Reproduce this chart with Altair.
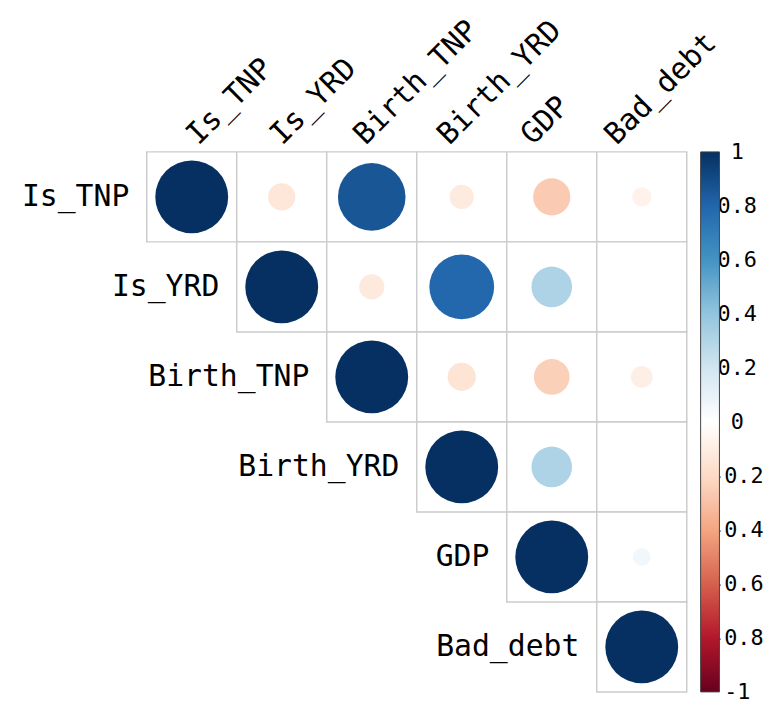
import altair as alt
import pandas as pd

variables = ["Is_TNP", "Is_YRD", "Birth_TNP", "Birth_YRD", "GDP", "Bad_debt"]

# upper-triangle correlation values, row by row (starting at the diagonal)
row_is_tnp = [1.0, -0.14, 0.86, -0.11, -0.26, -0.07]
row_is_yrd = [1.0, -0.12, 0.79, 0.31, 0.003]
row_birth_tnp = [1.0, -0.15, -0.24, -0.09]
row_birth_yrd = [1.0, 0.31, 0.004]
row_gdp = [1.0, 0.06]
row_bad_debt = [1.0]

legend_ticks = [-1, -0.8, -0.6, -0.4, -0.2, 0, 0.2, 0.4, 0.6, 0.8, 1]
rdbu_stops = [-1, -0.8, -0.6, -0.4, -0.2, 0, 0.2, 0.4, 0.6, 0.8, 1]
rdbu_colors = ["#67001f", "#b2182b", "#d6604d", "#f4a582", "#fddbc7", "#ffffff",
               "#d1e5f0", "#92c5de", "#4393c3", "#2166ac", "#053061"]

rows = [row_is_tnp, row_is_yrd, row_birth_tnp, row_birth_yrd, row_gdp, row_bad_debt]
records = []
for i, vals in enumerate(rows):
    for k, v in enumerate(vals):
        j = i + k
        records.append({"row": variables[i], "col": variables[j], "r": v, "absr": abs(v)})
df = pd.DataFrame(records)
diag = pd.DataFrame({"var": variables})
ticks_df = pd.DataFrame({"v": legend_ticks})

FONT = "DejaVu Sans Mono"
W = 545
H = 545

xs = alt.Scale(domain=variables, paddingInner=0, paddingOuter=0)
ys = alt.Scale(domain=variables, paddingInner=0, paddingOuter=0)

cells = alt.Chart(df).mark_rect(fill="white", stroke="#cccccc", strokeWidth=1.5).encode(
    x=alt.X("col:N", scale=xs, axis=None),
    y=alt.Y("row:N", scale=ys, axis=None),
)

circles = alt.Chart(df).mark_circle(opacity=1).encode(
    x=alt.X("col:N", scale=xs, axis=None),
    y=alt.Y("row:N", scale=ys, axis=None),
    size=alt.Size("absr:Q", scale=alt.Scale(domain=[0, 1], range=[0, 5410], zero=True), legend=None),
    color=alt.Color(
        "r:Q",
        scale=alt.Scale(type="linear", domain=rdbu_stops, range=rdbu_colors, interpolate="rgb"),
        legend=alt.Legend(
            title=None,
            orient="none",
            legendX=559,
            legendY=0,
            direction="vertical",
            gradientLength=545,
            gradientThickness=19,
            gradientStrokeColor="#444444",
            gradientStrokeWidth=1,
            values=legend_ticks,
            labelExpr="''",
            labelOpacity=0,
        ),
    ),
)

row_labels = alt.Chart(diag).mark_text(
    align="right", baseline="middle", dx=-63, font=FONT, fontSize=30, color="black"
).encode(
    x=alt.X("var:N", scale=xs, axis=None),
    y=alt.Y("var:N", scale=ys, axis=None),
    text="var:N",
)

col_labels = alt.Chart(diag).mark_text(
    align="left", baseline="alphabetic", angle=315, font=FONT, fontSize=30, color="black"
).encode(
    x=alt.X("var:N", scale=alt.Scale(type="point", domain=variables, range=[52, 474], padding=0), axis=None),
    y=alt.value(-6),
    text="var:N",
)

# colour-bar tick labels, centred just right of the bar
bar_labels = alt.Chart(ticks_df).transform_calculate(
    lab="replace(format(datum.v, '.1~f'), '\u2212', '-')"
).mark_text(
    align="center", baseline="middle", font=FONT, fontSize=22, color="black"
).encode(
    x=alt.value(596),
    y=alt.Y("v:Q", scale=alt.Scale(domain=[-1, 1], nice=False, zero=False), axis=None),
    text="lab:N",
)

base = alt.layer(cells, circles, row_labels).resolve_scale(x="shared", y="shared")
chart = alt.layer(base, col_labels, bar_labels).resolve_scale(
    x="independent", y="independent"
).properties(
    width=W,
    height=H,
    autosize=alt.AutoSizeParams(type="none"),
    padding={"left": 140, "top": 142, "right": 82, "bottom": 8},
).configure_view(stroke=None)

chart.save("out.html", embed_options={"renderer": "svg", "actions": False})
